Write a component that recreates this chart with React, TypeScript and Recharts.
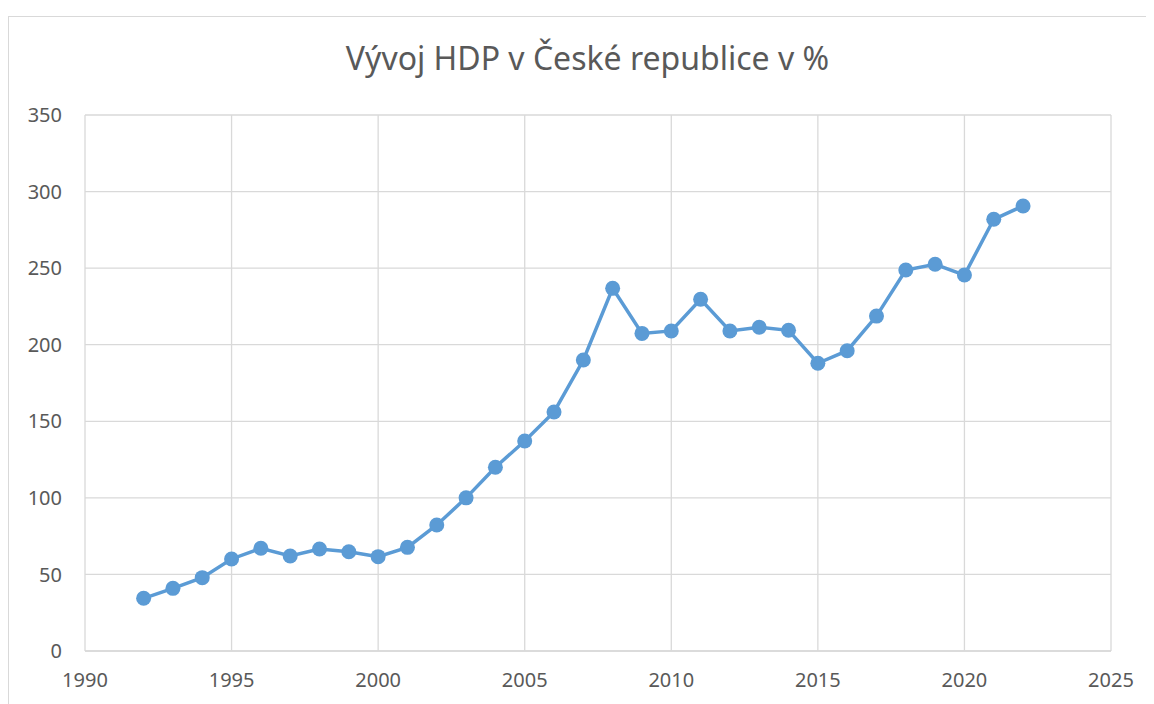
import React from "react";
import { CartesianGrid, Line, LineChart, XAxis, YAxis } from "recharts";

const years = [
  1992, 1993, 1994, 1995, 1996, 1997, 1998, 1999, 2000, 2001, 2002, 2003, 2004, 2005, 2006,
  2007, 2008, 2009, 2010, 2011, 2012, 2013, 2014, 2015, 2016, 2017, 2018, 2019, 2020, 2021, 2022,
];
const hdp = [
  34.4, 40.9, 47.9, 60.1, 67.1, 62.0, 66.6, 64.8, 61.6, 67.7, 82.3, 100.0, 120.0, 137.1, 156.1,
  190.0, 236.8, 207.4, 209.0, 229.7, 209.0, 211.4, 209.4, 187.9, 196.1, 218.7, 248.8, 252.5,
  245.5, 281.9, 290.6,
];
const xTicks = [1990, 1995, 2000, 2005, 2010, 2015, 2020, 2025];
const yTicks = [0, 50, 100, 150, 200, 250, 300, 350];

const title = "Vývoj HDP v České republice v %";

const data = years.map((year, i) => ({ year, value: hdp[i] }));

const FONT = '"Noto Sans", "Open Sans", sans-serif';
const TEXT = "#595959";
const GRID = "#d9d9d9";
const BLUE = "#5b9bd5";

export default function App() {
  return (
    <div style={{ position: "relative", width: 1154, height: 704, margin: "-8px 0 0 -8px", overflow: "hidden", background: "#fff", fontFamily: FONT }}>
      <div
        style={{
          position: "absolute",
          left: 8,
          top: 16,
          width: 1200,
          height: 760,
          border: `1px solid ${GRID}`,
        }}
      />
      <div
        style={{
          position: "absolute",
          left: 0,
          width: 1175,
          top: 38,
          textAlign: "center",
          fontSize: 32,
          color: TEXT,
          lineHeight: "40px",
        }}
      >
        {title}
      </div>
      <div style={{ position: "absolute", left: 0, top: 0 }}>
        <LineChart width={1154} height={704} data={data} margin={{ top: 115, right: 43, bottom: 0, left: 25 }}>
          <CartesianGrid stroke={GRID} strokeWidth={1.3} />
          <XAxis
            dataKey="year"
            type="number"
            domain={[1990, 2025]}
            ticks={xTicks}
            height={53}
            tickLine={false}
            tickSize={0}
            tickMargin={22}
            axisLine={{ stroke: GRID, strokeWidth: 1.3 }}
            tick={{ fill: TEXT, fontSize: 20, fontFamily: FONT }}
          />
          <YAxis
            type="number"
            domain={[0, 350]}
            ticks={yTicks}
            width={60}
            tickLine={false}
            tickSize={0}
            tickMargin={23}
            axisLine={false}
            tick={{ fill: TEXT, fontSize: 20, fontFamily: FONT }}
          />
          <Line
            type="linear"
            dataKey="value"
            stroke={BLUE}
            strokeWidth={3.5}
            dot={{ r: 7.5, fill: BLUE, stroke: BLUE, strokeWidth: 0 }}
            isAnimationActive={false}
          />
        </LineChart>
      </div>
    </div>
  );
}
